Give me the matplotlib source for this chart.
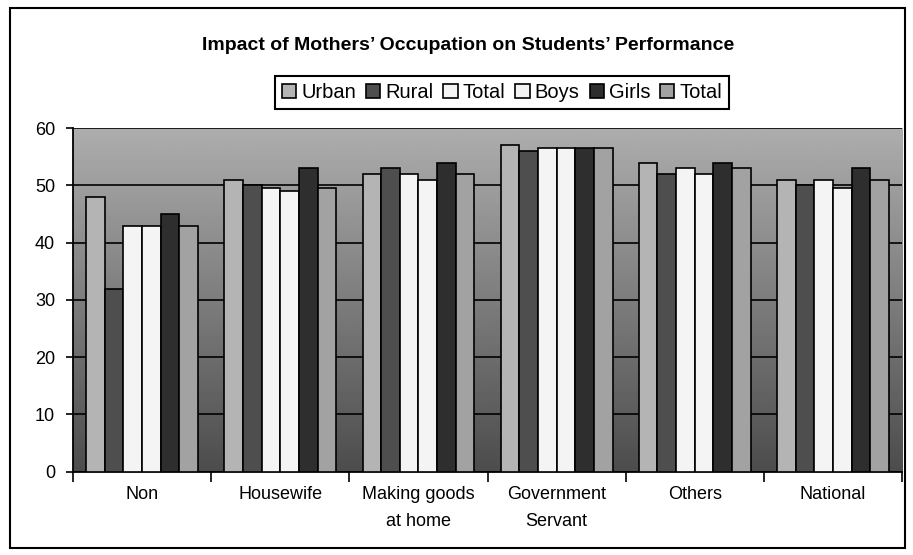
import numpy as np
import matplotlib.pyplot as plt
from matplotlib.patches import Rectangle

# datos
categorias = ['Non', 'Housewife', 'Making goods\nat home', 'Government\nServant', 'Others', 'National']
urban = [48, 51, 52, 57, 54, 51]
rural = [32, 50, 53, 56, 52, 50]
total = [43, 49.5, 52, 56.5, 53, 51]
boys = [43, 49, 51, 56.5, 52, 49.5]
girls = [45, 53, 54, 56.5, 54, 53]
total2 = [43, 49.5, 52, 56.5, 53, 51]

series = [urban, rural, total, boys, girls, total2]
nombres = ['Urban', 'Rural', 'Total', 'Boys', 'Girls', 'Total']
colores = ['#b4b4b4', '#4e4e4e', '#f4f4f4', '#f4f4f4', '#2e2e2e', '#a2a2a2']

plt.rcParams['font.family'] = ['Liberation Sans', 'DejaVu Sans']

fig = plt.figure(figsize=(9.13, 5.55), dpi=100)
ax = fig.add_axes([0.080, 0.150, 0.908, 0.619])

# fondo con degradado (gris claro arriba, oscuro abajo)
grad = np.linspace(0.30, 0.68, 256).reshape(-1, 1)
ax.imshow(grad, extent=[-0.5, len(categorias) - 0.5, 0, 60], origin='lower',
          cmap='gray', vmin=0, vmax=1, aspect='auto', zorder=0)

x = np.arange(len(categorias))
ancho = 0.135
for i, (vals, nombre, color) in enumerate(zip(series, nombres, colores)):
    pos = x + (i - 2.5) * ancho
    ax.bar(pos, vals, width=ancho, color=color, edgecolor='black',
           linewidth=1.2, label=nombre, zorder=3)

ax.set_xlim(-0.5, len(categorias) - 0.5)
ax.set_ylim(0, 60)
ax.set_yticks(range(0, 61, 10))
ax.yaxis.grid(True, color='black', linewidth=1.2, zorder=1)
ax.set_axisbelow(False)
for gl in ax.get_ygridlines():
    gl.set_zorder(1)

ax.set_xticks(x)
ax.set_xticklabels(categorias, fontsize=13, linespacing=1.8)
ax.set_xticks(np.arange(-0.5, len(categorias)), minor=True)
ax.tick_params(axis='x', which='major', length=0, pad=10)
ax.tick_params(axis='x', which='minor', length=7, width=1.2)
ax.tick_params(axis='y', length=5, width=1.2, labelsize=13, pad=8)

for lado in ['top', 'right']:
    ax.spines[lado].set_visible(False)
ax.spines['left'].set_linewidth(1.3)
ax.spines['bottom'].set_linewidth(1.3)

fig.text(0.513, 0.918, "Impact of Mothers\u2019 Occupation on Students\u2019 Performance",
         ha='center', va='center', fontsize=14, fontweight='bold')

leg = fig.legend(loc='center', bbox_to_anchor=(0.550, 0.834), ncol=6, fontsize=14.5,
                 handlelength=0.7, handleheight=0.7, handletextpad=0.25,
                 columnspacing=0.5, borderpad=0.35, fancybox=False, framealpha=1)
leg.get_frame().set_edgecolor('black')
leg.get_frame().set_linewidth(1.5)

# marco exterior del grafico
fig.patches.append(Rectangle((0.011, 0.013), 0.98, 0.972, transform=fig.transFigure,
                             fill=False, edgecolor='black', linewidth=1.5))

fig.savefig('out.png', dpi=100)
